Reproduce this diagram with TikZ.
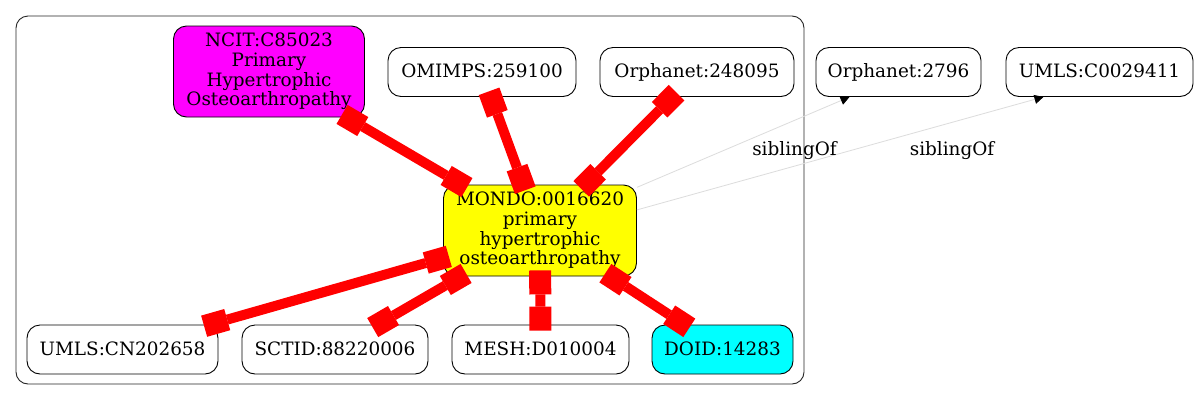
\documentclass[tikz,border=0pt]{standalone}
\usepackage{fontspec}
\setmainfont{DejaVu Serif}
\usetikzlibrary{arrows.meta}
\definecolor{gvmag}{RGB}{255,0,255}
\definecolor{gvcyan}{RGB}{0,255,255}
\definecolor{gvyellow}{RGB}{255,255,0}
\definecolor{gvred}{RGB}{255,0,0}
\definecolor{gvgray}{RGB}{220,220,220}
\begin{document}
\begin{tikzpicture}[x=1pt,y=-1pt,
  box/.style={draw=black, line width=0.9pt, rounded corners=13pt, inner sep=0pt,
    align=center, font=\fontsize{18.4}{19.7}\selectfont},
  single/.style={box, minimum height=49pt, text height=13.5pt, text depth=2pt},
  multi/.style={box, minimum height=91pt},
  redge/.style={draw=gvred, line width=10pt,
    {Square[length=24pt,width=22pt,line width=0pt]}-{Square[length=24pt,width=22pt,line width=0pt]},
    shorten <=-6pt, shorten >=-6pt},
  sedge/.style={draw=gvgray, line width=0.8pt,
    -{Triangle[length=9pt,width=9pt,color=black]}},
  lbl/.style={inner sep=0pt, font=\fontsize{18.4}{19.7}\selectfont,
    text height=13.5pt, text depth=2pt}
]
\useasboundingbox[fill=white] (0,0) rectangle (1199,400);
% cluster
\draw[rounded corners=12pt, line width=0.9pt, draw=black!85] (16,16) rectangle (804,384);
% nodes
\node[multi, fill=gvmag, minimum width=191pt] (ncit) at (269,71.5)
  {NCIT:C85023\\Primary\\Hypertrophic\\Osteoarthropathy};
\node[single, minimum width=188pt] (omim) at (482,72) {OMIMPS:259100};
\node[single, minimum width=194pt] (orpha) at (697,72) {Orphanet:248095};
\node[single, minimum width=165pt] (orphb) at (898.5,72) {Orphanet:2796};
\node[single, minimum width=187pt] (umlsc) at (1099.5,72) {UMLS:C0029411};
\node[multi, fill=gvyellow, minimum width=193pt] (mondo) at (540,230.5)
  {MONDO:0016620\\primary\\hypertrophic\\osteoarthropathy};
\node[single, minimum width=191pt] (umlscn) at (122.5,349.5) {UMLS:CN202658};
\node[single, minimum width=186pt] (sctid) at (335,349.5) {SCTID:88220006};
\node[single, minimum width=177pt] (mesh) at (540.5,349.5) {MESH:D010004};
\node[single, fill=gvcyan, minimum width=141pt] (doid) at (722.5,349.5) {DOID:14283};
% red edges
\draw[redge] (ncit) -- (mondo);
\draw[redge] (omim) -- (mondo);
\draw[redge] (orpha) -- (mondo);
\draw[redge] (mondo) -- (umlscn);
\draw[redge] (mondo) -- (sctid);
\draw[redge] (mondo) -- (mesh);
\draw[redge] (mondo) -- (doid);
% sibling edges
\draw[sedge] (mondo.24) -- (orphb.207.5);
\draw[sedge] (mondo.12) -- (umlsc.204.5);
\node[lbl] (l1) at (794.5,150) {siblingOf};
\node[lbl] (l2) at (952,150) {siblingOf};
\end{tikzpicture}
\end{document}
